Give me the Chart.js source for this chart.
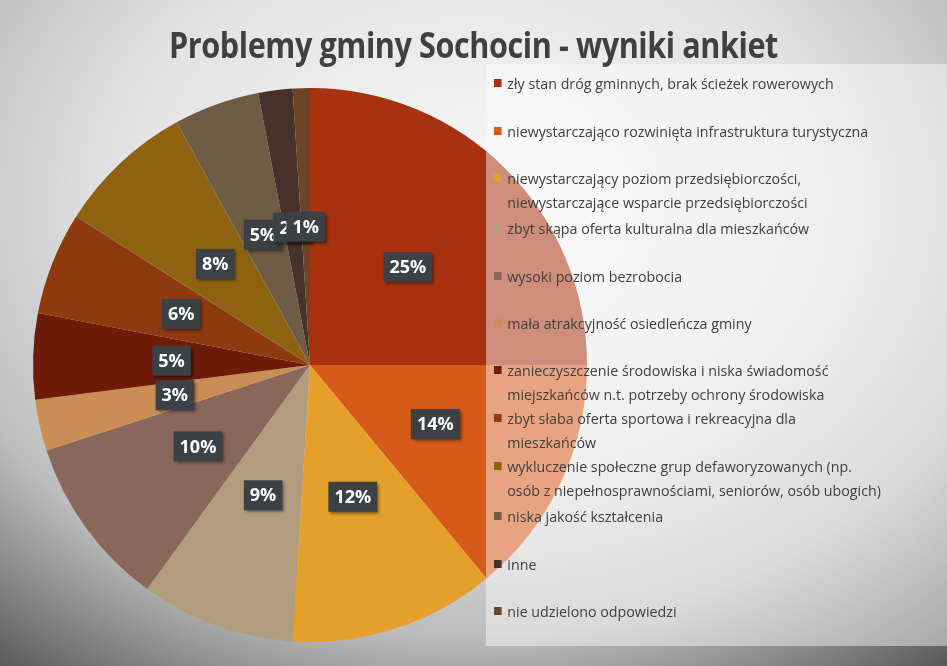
<!DOCTYPE html>
<html><head><meta charset="utf-8">
<script src="https://cdn.jsdelivr.net/npm/chart.js@4"></script>
<style>
html,body{margin:0;padding:0;}
body{width:947px;height:666px;position:relative;overflow:hidden;
background:radial-gradient(ellipse 900px 700px at 470px 200px,#f8f8f8 0%,#e2e2e2 40%,#bdbdbd 62%,#666 82%,#1a1a1a 100%);font-family:"Open Sans","Liberation Sans",sans-serif;}
#title{position:absolute;top:20px;left:0;width:947px;text-align:center;font-weight:bold;font-size:36px;color:#404040;font-family:"Open Sans",sans-serif;transform:scaleX(0.85);letter-spacing:-0.5px;}
canvas{position:absolute;left:0;top:0;}
#legend{position:absolute;left:486px;top:64px;width:461px;height:582px;background:rgba(255,255,255,0.45);}
.it{position:absolute;left:8px;font-size:15px;line-height:24px;color:#404040;padding-left:14px;white-space:nowrap;transform:scaleX(0.95);transform-origin:0 0;}
.it i{position:absolute;left:0;top:8px;width:8px;height:8px;}
</style></head><body>
<canvas id="c" width="947" height="666"></canvas>
<div id="legend"></div>
<div id="title">Problemy gminy Sochocin - wyniki ankiet</div>
<script>
const categories=["zły stan dróg gminnych, brak ścieżek rowerowych","niewystarczająco rozwinięta infrastruktura turystyczna","niewystarczający poziom przedsiębiorczości, niewystarczające wsparcie przedsiębiorczości","zbyt skąpa oferta kulturalna dla mieszkańców","wysoki poziom bezrobocia","mała atrakcyjność osiedleńcza gminy","zanieczyszczenie środowiska i niska świadomość miejszkańców n.t. potrzeby ochrony środowiska","zbyt słaba oferta sportowa i rekreacyjna dla mieszkańców","wykluczenie społeczne grup defaworyzowanych (np. osób z niepełnosprawnościami, seniorów, osób ubogich)","niska jakość kształcenia","inne","nie udzielono odpowiedzi"];
const values=[25,14,12,9,10,3,5,6,8,5,2,1];
const labels=["25%","14%","12%","9%","10%","3%","5%","6%","8%","5%","2%","1%"];
const colors=["#A8320F","#D65A18","#E5A02B","#B39B7E","#89675A","#C98D55","#6E1C08","#8E3A10","#8F6212","#6F5C45","#46312B","#6C4528"];
const legendLines=[["zły stan dróg gminnych, brak ścieżek rowerowych"],["niewystarczająco rozwinięta infrastruktura turystyczna"],["niewystarczający poziom przedsiębiorczości,","niewystarczające wsparcie przedsiębiorczości"],["zbyt skąpa oferta kulturalna dla mieszkańców"],["wysoki poziom bezrobocia"],["mała atrakcyjność osiedleńcza gminy"],["zanieczyszczenie środowiska i niska świadomość","miejszkańców n.t. potrzeby ochrony środowiska"],["zbyt słaba oferta sportowa i rekreacyjna dla","mieszkańców"],["wykluczenie społeczne grup defaworyzowanych (np.","osób z niepełnosprawnościami, seniorów, osób ubogich)"],["niska jakość kształcenia"],["inne"],["nie udzielono odpowiedzi"]];
const legendTops=[7,55,102,152,200,247,294,342,390,440,488,535];
const lg=document.getElementById('legend');
legendLines.forEach((l,i)=>{const d=document.createElement('div');d.className='it';d.style.top=legendTops[i]+'px';
d.innerHTML='<i style="background:'+colors[i]+'"></i>'+l.join('<br>');lg.appendChild(d);});
const lbl={id:'lbl',afterDatasetsDraw(ch){const ctx=ch.ctx;ctx.save();ctx.font='bold 18px "Open Sans",sans-serif';ctx.textAlign='center';ctx.textBaseline='middle';
ch.getDatasetMeta(0).data.forEach((a,i)=>{const m=(a.startAngle+a.endAngle)/2,r=a.outerRadius*0.5;const x=a.x+Math.cos(m)*r,y=a.y+Math.sin(m)*r;const t=labels[i];const w=ctx.measureText(t).width+12;
ctx.shadowColor='rgba(0,0,0,0.5)';ctx.shadowOffsetX=2;ctx.shadowOffsetY=2;ctx.shadowBlur=3;ctx.fillStyle='#3c4146';ctx.fillRect(x-w/2,y-15,w,30);ctx.shadowColor='transparent';ctx.fillStyle='#fff';ctx.fillText(t,x,y+1);});ctx.restore();}};
new Chart(document.getElementById('c'),{type:'pie',data:{labels:categories,datasets:[{data:values,backgroundColor:colors,borderWidth:0}]},
options:{responsive:false,animation:false,layout:{padding:{left:33,top:88,right:360,bottom:24}},plugins:{legend:{display:false},tooltip:{enabled:false}}},plugins:[lbl]});
</script></body></html>
